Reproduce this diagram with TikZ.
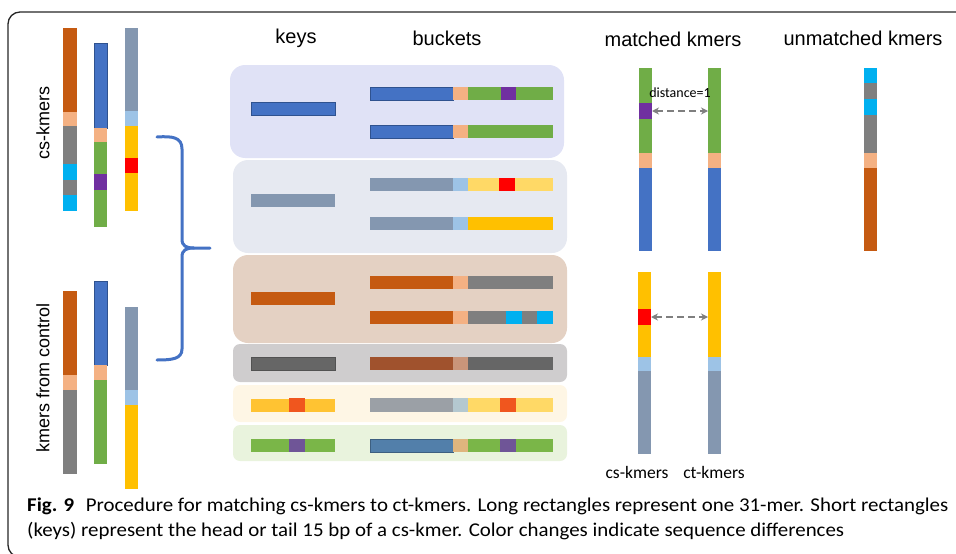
\documentclass[tikz,border=0pt]{standalone}
\usepackage{fontspec}
\setmainfont{Liberation Sans}
\newfontfamily\capfont{Carlito}
\usepackage{graphicx}
\usetikzlibrary{arrows.meta}
\definecolor{kmorange}{HTML}{C55A11}
\definecolor{kmpeach}{HTML}{F4B183}
\definecolor{kmgray}{HTML}{7F7F7F}
\definecolor{kmcyan}{HTML}{00B0F0}
\definecolor{kmblue}{HTML}{4472C4}
\definecolor{kmblueline}{HTML}{2F528F}
\definecolor{kmgreen}{HTML}{70AD47}
\definecolor{kmpurple}{HTML}{7030A0}
\definecolor{kmslate}{HTML}{8497B0}
\definecolor{kmsky}{HTML}{9DC3E6}
\definecolor{kmyellow}{HTML}{FFC000}
\definecolor{kmred}{HTML}{FF0000}
\definecolor{kmpale}{HTML}{FFD966}
\definecolor{kmdark}{HTML}{666666}
\definecolor{kmbrown}{HTML}{A0522D}
\definecolor{kmtan}{HTML}{C9957A}
\definecolor{kmsun}{HTML}{FFC332}
\definecolor{kmflame}{HTML}{F0561E}
\definecolor{kmstone}{HTML}{9BA0A6}
\definecolor{kmmist}{HTML}{B4C8D0}
\definecolor{kmleaf}{HTML}{7AB648}
\definecolor{kmviolet}{HTML}{6F5597}
\definecolor{kmsteel}{HTML}{527FAA}
\definecolor{kmsand}{HTML}{DFB57E}
\definecolor{bgone}{HTML}{E0E2F6}
\definecolor{bgtwo}{HTML}{E6E9F1}
\definecolor{bgthree}{HTML}{E4D1C3}
\definecolor{bgfour}{HTML}{CFCDCE}
\definecolor{bgfive}{HTML}{FEF6E5}
\definecolor{bgsix}{HTML}{E9F3DD}

\begin{document}
\begin{tikzpicture}[x=1pt, y=-1pt,
  lbl/.style={font=\fontsize{20}{24}\selectfont, inner sep=0pt},
  side/.style={font=\fontsize{18}{22}\selectfont, rotate=90, inner sep=0pt},
  small/.style={font=\capfont\fontsize{17.5}{20}\selectfont, inner sep=0pt},
  panel/.style={minimum width=334pt, inner sep=0pt, outer sep=0pt},
  key/.style={minimum width=84pt, minimum height=13pt, inner sep=0pt, outer sep=0pt},
  seg/.style={minimum width=13pt, inner sep=0pt, outer sep=0pt},
  brace/.style={draw=kmblue, line width=3pt, line cap=round},
  dist/.style={draw=kmgray, line width=2pt, dash pattern=on 7pt off 4pt,
    {Stealth[length=7pt,width=7pt]}-{Stealth[length=7pt,width=7pt]}}]
  \useasboundingbox (0,0) rectangle (956,554);
  \clip (0,0) rectangle (956,554);
  % frame
  \draw[line width=1.3pt, black!85, rounded corners=12pt] (990,557) -- (8,557) -- (8,12) -- (990,12);

  % left: cs-kmers
  \node[side] (cslbl) at (43,123) {cs-kmers};
  \fill[kmorange] (63,28) rectangle (77,112);
  \fill[kmpeach] (63,112) rectangle (77,126);
  \fill[kmgray] (63,126) rectangle (77,164);
  \fill[kmcyan] (63,164) rectangle (77,180);
  \fill[kmgray] (63,180) rectangle (77,195);
  \fill[kmcyan] (63,195) rectangle (77,211);
  \filldraw[fill=kmblue, draw=kmblueline, line width=0.6pt] (94,43) rectangle (107,128);
  \fill[kmpeach] (94,128) rectangle (107,142);
  \fill[kmgreen] (94,142) rectangle (107,174);
  \fill[kmpurple] (94,174) rectangle (107,190);
  \fill[kmgreen] (94,190) rectangle (107,227);
  \fill[kmslate] (125,28) rectangle (138,111);
  \fill[kmsky] (125,111) rectangle (138,126);
  \fill[kmyellow] (125,126) rectangle (138,158);
  \fill[kmred] (125,158) rectangle (138,173);
  \fill[kmyellow] (125,173) rectangle (138,211);

  % left: kmers from control
  \node[side] (ctrllbl) at (43,378) {kmers from control};
  \fill[kmorange] (63,291) rectangle (77,375);
  \fill[kmpeach] (63,375) rectangle (77,390);
  \fill[kmgray] (63,390) rectangle (77,474);
  \filldraw[fill=kmblue, draw=kmblueline, line width=0.6pt] (94,281) rectangle (107,365);
  \fill[kmpeach] (94,365) rectangle (107,380);
  \fill[kmgreen] (94,380) rectangle (107,464);
  \fill[kmslate] (125,307) rectangle (138,390);
  \fill[kmsky] (125,390) rectangle (138,405);
  \fill[kmyellow] (125,405) rectangle (138,489);

  % brace
  \draw[brace] (157,137) .. controls (172,136) and (182,137) .. (182,149) -- (182,239)
    .. controls (182,246) and (186,248) .. (194,248) -- (210,248);
  \draw[brace] (194,248) .. controls (186,248) and (182,250) .. (182,257) -- (182,349)
    .. controls (182,359) and (172,360) .. (157,360);

  % keys and buckets
  \node[lbl] (keys) at (296,38) {keys};
  \node[lbl] (buckets) at (447,38) {buckets};
  \node[panel, fill=bgone, rounded corners=15pt, minimum height=93pt] (p1) at (397,111.5) {};
  \node[panel, fill=bgtwo, rounded corners=15pt, minimum height=93pt] (p2) at (400,206.5) {};
  \node[panel, fill=bgthree, rounded corners=15pt, minimum height=88pt] (p3) at (400,299) {};
  \node[panel, fill=bgfour, rounded corners=7pt, minimum height=38pt] (p4) at (400,363) {};
  \node[panel, fill=bgfive, rounded corners=7pt, minimum height=37pt] (p5) at (400,403.5) {};
  \node[panel, fill=bgsix, rounded corners=7pt, minimum height=36pt] (p6) at (400,443) {};

  \node[key, fill=kmblue, draw=kmblueline, line width=0.6pt] (k1) at (293,108.5) {};
  \node[key, fill=kmslate] (k2) at (293,200.5) {};
  \node[key, fill=kmorange] (k3) at (292.5,298.5) {};
  \node[key, fill=kmdark, draw=kmdark!80!black, line width=0.6pt] (k4) at (293,363.5) {};
  \node[key, fill=kmsun] (k5) at (292.5,405) {};
  \fill[kmflame] (289,398) rectangle (305,412);
  \node[key, fill=kmleaf] (k6) at (293,445.5) {};
  \fill[kmviolet] (289,439) rectangle (305,452);

  \filldraw[fill=kmblue, draw=kmblueline, line width=0.6pt] (370,87) rectangle (453,100);
  \fill[kmpeach] (453,87) rectangle (468,100);
  \fill[kmgreen] (468,87) rectangle (553,100);
  \fill[kmpurple] (501,87) rectangle (516,100);
  \filldraw[fill=kmblue, draw=kmblueline, line width=0.6pt] (370,125) rectangle (453,138);
  \fill[kmpeach] (453,125) rectangle (468,138);
  \fill[kmgreen] (468,125) rectangle (553,138);

  \fill[kmslate] (370,178) rectangle (453,191);
  \fill[kmsky] (453,178) rectangle (468,191);
  \fill[kmpale] (468,178) rectangle (553,191);
  \fill[kmred] (499,178) rectangle (515,191);
  \fill[kmslate] (370,217) rectangle (453,230);
  \fill[kmsky] (453,217) rectangle (468,230);
  \fill[kmyellow] (468,217) rectangle (553,230);

  \fill[kmorange] (370,276) rectangle (453,289);
  \fill[kmpeach] (453,276) rectangle (468,289);
  \fill[kmgray] (468,276) rectangle (553,289);
  \fill[kmorange] (370,311) rectangle (453,324);
  \fill[kmpeach] (453,311) rectangle (468,324);
  \fill[kmgray] (468,311) rectangle (553,324);
  \fill[kmcyan] (506,311) rectangle (522,324);
  \fill[kmcyan] (537,311) rectangle (553,324);

  \fill[kmbrown] (370,357) rectangle (453,370);
  \fill[kmtan] (453,357) rectangle (468,370);
  \fill[kmdark] (468,357) rectangle (553,370);

  \fill[kmstone] (370,398) rectangle (453,412);
  \fill[kmmist] (453,398) rectangle (468,412);
  \fill[kmpale] (468,398) rectangle (553,412);
  \fill[kmflame] (500,398) rectangle (516,412);

  \filldraw[fill=kmsteel, draw=kmsteel!75!black, line width=0.6pt] (370,439) rectangle (453,452);
  \fill[kmsand] (453,439) rectangle (468,452);
  \fill[kmleaf] (468,439) rectangle (553,452);
  \fill[kmviolet] (500,439) rectangle (516,452);

  % matched / unmatched
  \node[lbl] (matched) at (673,39) {matched kmers};
  \node[lbl] (unmatched) at (863,38) {unmatched kmers};

  \fill[kmgreen] (639,68) rectangle (652,153);
  \node[seg, fill=kmpurple, minimum height=16pt] (cs1diff) at (645.5,111) {};
  \fill[kmpeach] (639,153) rectangle (652,168);
  \fill[kmblue] (639,168) rectangle (652,251);
  \node[seg, fill=kmgreen, minimum height=85pt] (ct1) at (714.5,110.5) {};
  \fill[kmpeach] (708,153) rectangle (721,168);
  \fill[kmblue] (708,168) rectangle (721,251);
  \node[font=\capfont\fontsize{14}{16}\selectfont, inner sep=0pt] (distlbl) at (680,93) {distance=1};
  \draw[dist] (cs1diff.east) -- (cs1diff.east -| ct1.west);

  \fill[kmcyan] (864,68) rectangle (877,83);
  \fill[kmgray] (864,83) rectangle (877,99);
  \fill[kmcyan] (864,99) rectangle (877,115);
  \fill[kmgray] (864,115) rectangle (877,153);
  \fill[kmpeach] (864,153) rectangle (877,168);
  \fill[kmorange] (864,168) rectangle (877,251);

  \fill[kmyellow] (638,272) rectangle (651,357);
  \node[seg, fill=kmred, minimum height=16pt] (cs2diff) at (644.5,317) {};
  \fill[kmsky] (638,357) rectangle (651,371);
  \fill[kmslate] (638,371) rectangle (651,454);
  \node[seg, fill=kmyellow, minimum height=85pt] (ct2) at (714.5,314.5) {};
  \fill[kmsky] (708,357) rectangle (721,371);
  \fill[kmslate] (708,371) rectangle (721,454);
  \draw[dist] (cs2diff.east) -- (cs2diff.east -| ct2.west);

  \node[small] (cslow) at (637,472) {cs-kmers};
  \node[small] (ctlow) at (714,472) {ct-kmers};

  % caption
  \node[anchor=base west, inner sep=0pt, font=\capfont\fontsize{19.5}{23}\selectfont] (cap1) at (27,511)
    {\resizebox{921pt}{\height}{\textbf{Fig. 9}\hspace{0.55em}Procedure for matching cs-kmers to ct-kmers. Long rectangles represent one 31-mer. Short rectangles}};
  \node[anchor=base west, inner sep=0pt, font=\capfont\fontsize{19.5}{23}\selectfont] (cap2) at (27,536.7)
    {\resizebox{817pt}{\height}{(keys) represent the head or tail 15 bp of a cs-kmer. Color changes indicate sequence differences}};
\end{tikzpicture}
\end{document}
